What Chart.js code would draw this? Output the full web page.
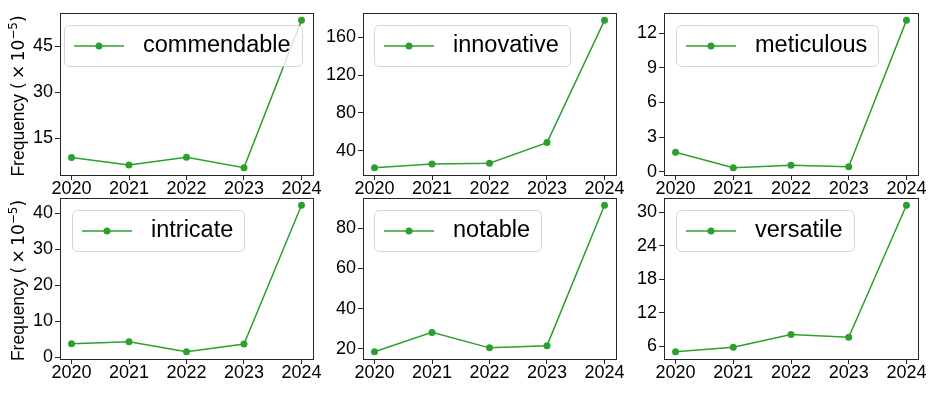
<!DOCTYPE html>
<html>
<head>
<meta charset="utf-8">
<script src="https://cdn.jsdelivr.net/npm/chart.js@4.4.1/dist/chart.umd.min.js"></script>
<style>
  html, body { margin: 0; padding: 0; background: #fff; }
  #fig { position: relative; width: 934px; height: 394px; overflow: hidden; background: #fff; }
  #fig canvas { position: absolute; }
</style>
</head>
<body>
<div id="fig"></div>
<script>
// ---- data: word frequency per year (x10^-5) ----
const years = [2020, 2021, 2022, 2023, 2024];
const words = ['commendable', 'innovative', 'meticulous', 'intricate', 'notable', 'versatile'];

const commendable = [8.7, 6.3, 8.8, 5.4, 53.5];
const innovative  = [22.0, 25.9, 26.6, 48.5, 178.0];
const meticulous  = [1.68, 0.35, 0.55, 0.43, 13.1];
const intricate   = [3.8, 4.35, 1.6, 3.7, 42.2];
const notable     = [18.6, 28.2, 20.5, 21.6, 91.4];
const versatile   = [5.0, 5.8, 8.1, 7.6, 31.25];

// y tick labels per panel
const ticksCommendable = [15, 30, 45];
const ticksInnovative  = [40, 80, 120, 160];
const ticksMeticulous  = [0, 3, 6, 9, 12];
const ticksIntricate   = [0, 10, 20, 30, 40];
const ticksNotable     = [20, 40, 60, 80];
const ticksVersatile   = [6, 12, 18, 24, 30];

const seriesList = [commendable, innovative, meticulous, intricate, notable, versatile];
const tickList = [ticksCommendable, ticksInnovative, ticksMeticulous, ticksIntricate, ticksNotable, ticksVersatile];

// ---- layout (px) ----
const colLeft = [60, 363, 664];
const colWidth = [253, 253, 254];
const rowTop = [13, 198];
const rowHeight = [162, 161];
const legendInset = [4, 11, 12, 12, 11, 12];

const AX_W = 60;   // room for y axis
const AX_H = 35;   // room for x axis
const PAD_T = 13;
const PAD_R = 22;

const GREEN = '#2ca02c';
const AXIS = '#262626';
const FONT = "'Liberation Sans', Arial, sans-serif";
const MATH = "'DejaVu Sans', sans-serif";

// y label "Frequency (×10^-5)" with a real superscript, like mathtext
const titleParts = [
  ['Frequency\u00a0', '17.5px ' + FONT, 0],
  ['(', '17px ' + MATH, 0],
  ['\u2009\u00d7\u2009', '17px ' + MATH, 0],
  ['10', '17px ' + MATH, 0],
  ['\u22125', '12px ' + MATH, -7],
  [')', '17px ' + MATH, 0]
];

function drawYTitle(ctx, a) {
  ctx.save();
  let total = 0;
  const widths = titleParts.map(function (p) {
    ctx.font = p[1];
    const w = ctx.measureText(p[0]).width;
    total += w;
    return w;
  });
  ctx.translate(18, (a.top + a.bottom) / 2 + 2);
  ctx.rotate(-Math.PI / 2);
  ctx.fillStyle = '#000';
  ctx.textBaseline = 'alphabetic';
  ctx.textAlign = 'left';
  let x = -total / 2;
  titleParts.forEach(function (p, k) {
    ctx.font = p[1];
    ctx.fillText(p[0], x, 6 + p[2]);
    x += widths[k];
  });
  ctx.restore();
}

// frame + in-axes legend (matplotlib style)
const framePlugin = {
  id: 'frameLegend',
  afterDatasetsDraw(chart, args, opts) {
    const ctx = chart.ctx;
    const a = chart.chartArea;
    ctx.save();
    ctx.strokeStyle = AXIS;
    ctx.lineWidth = 1;
    ctx.strokeRect(Math.round(a.left) + 0.5, Math.round(a.top) + 0.5,
      Math.round(a.right - a.left), Math.round(a.bottom - a.top));

    const ds = chart.data.datasets[0];
    ctx.font = '23.5px ' + FONT;
    const tw = ctx.measureText(ds.label).width;
    const bx = Math.round(a.left + opts.inset);
    const by = Math.round(a.top + 11.5);
    const bw = Math.round(10 + 50 + 19 + tw + 11);
    const bh = 41;
    ctx.beginPath();
    ctx.roundRect(bx + 0.5, by + 0.5, bw, bh, 5);
    ctx.fillStyle = 'rgba(255,255,255,0.8)';
    ctx.fill();
    ctx.strokeStyle = 'rgba(204,204,204,0.8)';
    ctx.stroke();

    const cy = by + bh / 2 + 0.5;
    ctx.strokeStyle = GREEN;
    ctx.lineWidth = 1.5;
    ctx.beginPath();
    ctx.moveTo(bx + 10, cy);
    ctx.lineTo(bx + 60, cy);
    ctx.stroke();
    ctx.fillStyle = GREEN;
    ctx.beginPath();
    ctx.arc(bx + 35, cy, 3.5, 0, Math.PI * 2);
    ctx.fill();

    ctx.fillStyle = '#000';
    ctx.textBaseline = 'middle';
    ctx.textAlign = 'left';
    ctx.fillText(ds.label, bx + 79, cy);
    ctx.restore();

    if (opts.yTitle) drawYTitle(ctx, a);
  }
};

const fig = document.getElementById('fig');

words.forEach(function (word, i) {
  const col = i % 3, row = Math.floor(i / 3);
  const vals = seriesList[i];
  const ticks = tickList[i];
  const lo = Math.min.apply(null, vals), hi = Math.max.apply(null, vals);
  const m = (hi - lo) * 0.05;

  const canvas = document.createElement('canvas');
  const w = AX_W + colWidth[col] + PAD_R;
  const h = PAD_T + rowHeight[row] + AX_H;
  canvas.width = w;
  canvas.height = h;
  canvas.style.width = w + 'px';
  canvas.style.height = h + 'px';
  canvas.style.left = (colLeft[col] - AX_W) + 'px';
  canvas.style.top = (rowTop[row] - PAD_T) + 'px';
  fig.appendChild(canvas);

  new Chart(canvas.getContext('2d'), {
    type: 'line',
    data: {
      datasets: [{
        label: word,
        data: years.map(function (x, k) { return { x: x, y: vals[k] }; }),
        borderColor: GREEN,
        backgroundColor: GREEN,
        borderWidth: 1.5,
        pointRadius: 3.5,
        pointBorderWidth: 0,
        pointHoverRadius: 3.5,
        tension: 0
      }]
    },
    options: {
      responsive: false,
      animation: false,
      events: [],
      layout: { padding: { left: 0, top: PAD_T, right: PAD_R, bottom: 0 } },
      plugins: {
        legend: { display: false },
        tooltip: { enabled: false },
        frameLegend: { inset: legendInset[i], yTitle: col === 0 }
      },
      scales: {
        x: {
          type: 'linear',
          min: years[0] - 0.2,
          max: years[years.length - 1] + 0.2,
          afterFit: function (s) { s.height = AX_H; },
          afterBuildTicks: function (s) { s.ticks = years.map(function (v) { return { value: v }; }); },
          ticks: {
            callback: function (v) { return String(v); },
            color: '#000',
            font: { family: FONT, size: 18, lineHeight: 1 },
            padding: 0,
            maxRotation: 0,
            autoSkip: false
          },
          grid: { drawOnChartArea: false, drawTicks: true, tickLength: 5, color: AXIS, lineWidth: 1 },
          border: { display: false }
        },
        y: {
          min: lo - m,
          max: hi + m,
          afterFit: function (s) { s.width = AX_W; },
          afterBuildTicks: function (s) { s.ticks = ticks.map(function (v) { return { value: v }; }); },
          ticks: {
            callback: function (v) { return String(v); },
            color: '#000',
            font: { family: FONT, size: 18, lineHeight: 1 },
            padding: 2,
            autoSkip: false
          },
          grid: { drawOnChartArea: false, drawTicks: true, tickLength: 5, color: AXIS, lineWidth: 1 },
          border: { display: false }
        }
      }
    },
    plugins: [framePlugin]
  });
});
</script>
</body>
</html>
